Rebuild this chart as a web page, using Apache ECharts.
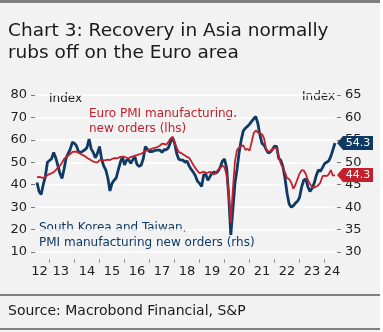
<!DOCTYPE html>
<html>
<head>
<meta charset="utf-8">
<script src="https://cdn.jsdelivr.net/npm/echarts@6/dist/echarts.min.js"></script>
<style>
html,body{margin:0;padding:0;background:#ffffff;}
#chart{width:383px;height:332px;}
</style>
</head>
<body>
<div id="chart"></div>
<script>
// Monthly data, July 2012 .. June 2024
const startYear = 2012, startMonth = 7;
// South Korea and Taiwan PMI manufacturing new orders (rhs)
const asiaNewOrders = [
 45.5,43.5,42.8,45.0,46.8,50.0,50.4,50.8,52.2,51.0,49.3,47.5,
 46.4,48.5,51.0,52.0,53.0,54.5,54.2,53.6,52.3,52.2,52.5,52.8,
 53.3,55.2,53.0,52.2,51.0,52.0,53.5,50.7,49.2,48.3,46.5,43.6,
 45.3,46.0,46.5,48.3,50.0,51.2,49.4,50.5,50.5,49.8,50.6,51.2,
 49.5,49.1,49.4,50.8,53.5,52.9,52.4,52.4,52.5,52.7,52.7,52.7,
 52.2,52.8,52.8,53.2,54.4,55.6,54.3,52.0,50.7,50.5,50.5,50.0,
 50.3,49.2,48.4,47.8,47.0,45.8,45.3,44.6,47.2,47.3,46.0,46.8,
 47.6,47.8,47.6,48.1,49.0,50.3,50.7,48.7,42.5,33.8,39.5,45.3,
 48.5,52.2,55.0,57.0,57.6,58.0,58.5,59.1,59.7,60.2,58.6,56.0,
 54.2,53.8,52.8,52.1,52.3,52.9,53.6,53.5,50.9,50.4,49.0,46.5,
 43.1,40.7,40.0,40.3,40.9,41.3,42.2,44.5,46.0,46.3,44.5,43.5,
 44.2,45.3,47.0,48.3,48.0,48.8,49.7,50.0,50.3,51.3,52.8,54.3
];
// Euro PMI manufacturing, new orders (lhs)
const euroNewOrders = [
 43.3,43.5,43.3,43.0,43.6,44.2,44.8,45.1,45.6,46.5,47.6,48.4,
 49.8,51.5,52.3,53.0,53.8,54.6,54.7,54.7,54.2,53.7,53.2,52.7,
 52.0,51.4,50.9,50.3,50.1,50.0,51.0,51.0,50.8,51.0,51.2,51.0,
 51.5,51.8,51.8,52.0,52.4,52.5,52.5,52.0,51.8,52.3,52.6,53.0,
 53.2,53.5,53.8,54.4,55.0,55.4,55.7,56.0,56.3,56.6,56.9,57.5,
 58.3,58.2,57.8,59.0,60.5,61.3,59.0,56.5,54.6,54.2,53.6,53.0,
 52.4,52.0,50.5,48.8,47.4,46.2,45.2,45.5,45.8,45.3,45.3,45.8,
 44.9,44.6,45.6,46.6,47.5,48.5,47.8,44.3,36.0,23.0,38.0,50.5,
 55.5,56.5,57.2,57.6,55.5,56.0,55.2,59.0,63.0,64.2,63.2,62.9,
 62.5,60.5,55.5,54.8,55.0,55.6,56.6,56.2,52.5,49.3,47.8,45.5,
 43.0,42.5,41.0,38.2,40.0,42.5,45.0,46.5,46.3,44.8,42.0,40.3,
 39.0,38.7,39.2,39.8,41.0,43.8,44.0,43.8,44.6,46.5,44.0,44.3
];
const yearTicks = [2013,2014,2015,2016,2017,2018,2019,2020,2021,2022,2023,2024];
const yearLabelPos = [2012.6,2013.45,2014.5,2015.5,2016.5,2017.5,2018.5,2019.5,2020.5,2021.5,2022.5,2023.5,2024.3];
const leftTicks = [10,20,30,40,50,60,70,80];
const rightTicks = [30,35,40,45,50,55,60,65];

const BLUE = '#0e3a63', RED = '#c4202c';
const FONT = 'DejaVu Sans';

const t0 = startYear + (startMonth - 1) / 12;
const xOf = i => t0 + i / 12;
const asiaData = asiaNewOrders.map((v, i) => [xOf(i), v]);
const euroData = euroNewOrders.map((v, i) => [xOf(i), v]);
const lastI = asiaNewOrders.length - 1;

const arrowPath = 'path://M0,7 L6,0 L36,0 L36,14 L6,14 Z';

const chart = echarts.init(document.getElementById('chart'), null, {renderer: 'canvas'});
chart.setOption({
  animation: false,
  backgroundColor: '#ffffff',
  textStyle: {fontFamily: FONT},
  grid: {left: 37, right: 48, top: 95, bottom: 80},
  xAxis: {
    type: 'value', min: t0, max: xOf(lastI), offset: 7,
    axisLine: {show: false},
    splitLine: {show: false},
    axisTick: {show: true, customValues: yearTicks, length: 4, lineStyle: {color: '#9a9a9a', width: 1}},
    axisLabel: {customValues: yearLabelPos, margin: 6, fontSize: 13, color: '#222', fontFamily: FONT,
      formatter: v => String(Math.floor(v)).slice(2)}
  },
  yAxis: [
    {type: 'value', min: leftTicks[0], max: leftTicks[leftTicks.length-1], interval: 10, position: 'left', offset: 2,
     axisLine: {show: false},
     axisTick: {show: true, length: 4, lineStyle: {color: '#7a7a7a'}},
     axisLabel: {margin: 8, fontSize: 13, color: '#222', fontFamily: FONT},
     splitLine: {show: true, lineStyle: {color: '#ffffff', width: 1.5}}},
    {type: 'value', min: rightTicks[0], max: rightTicks[rightTicks.length-1], interval: 5, position: 'right', offset: 2,
     axisLine: {show: false},
     axisTick: {show: true, length: 4, lineStyle: {color: '#7a7a7a'}},
     axisLabel: {margin: 8, fontSize: 13, color: '#222', fontFamily: FONT},
     splitLine: {show: false}}
  ],
  series: [
    {name: 'South Korea and Taiwan', type: 'line', yAxisIndex: 1, data: asiaData, showSymbol: false, symbol: 'none',
     lineStyle: {color: BLUE, width: 2.8}, z: 2,
     markPoint: {symbol: arrowPath, symbolSize: [36, 14], symbolOffset: [20, 0], symbolKeepAspect: false,
       itemStyle: {color: BLUE},
       label: {show: true, position: 'inside', color: '#fff', fontSize: 11, fontFamily: FONT, offset: [3, 0],
         formatter: p => p.value.toFixed(1)},
       data: [{coord: asiaData[lastI], value: asiaNewOrders[lastI]}]}},
    {name: 'Euro PMI', type: 'line', yAxisIndex: 0, data: euroData, showSymbol: false, symbol: 'none',
     lineStyle: {color: RED, width: 1.8}, z: 3,
     markPoint: {symbol: arrowPath, symbolSize: [36, 14], symbolOffset: [20, 0], symbolKeepAspect: false,
       itemStyle: {color: RED},
       label: {show: true, position: 'inside', color: '#fff', fontSize: 11, fontFamily: FONT, offset: [3, 0],
         formatter: p => p.value.toFixed(1)},
       data: [{coord: euroData[lastI], value: euroNewOrders[lastI]}]}}
  ],
  graphic: [
    {type: 'rect', z: -10, silent: true, shape: {x: 0, y: 0, width: 380, height: 332}, style: {fill: '#f2f2f2'}},
    {type: 'rect', z: -5, shape: {x: 0, y: 0, width: 380, height: 3}, style: {fill: '#808080'}},
    {type: 'text', left: 8, top: 22, style: {text: 'Chart 3: Recovery in Asia normally', fontSize: 18.5, fontFamily: FONT, fill: '#1a1a1a'}},
    {type: 'text', left: 8, top: 43.5, style: {text: 'rubs off on the Euro area', fontSize: 18.5, fontFamily: FONT, fill: '#1a1a1a'}},
    {type: 'text', left: 49, top: 93, style: {text: 'Index', fontSize: 12, fontFamily: FONT, fill: '#1a1a1a'}},
    {type: 'text', left: 302, top: 91, style: {text: 'Index', fontSize: 12, fontFamily: FONT, fill: '#1a1a1a'}},
    {type: 'text', left: 89, top: 106, style: {text: 'Euro PMI manufacturing,\nnew orders (lhs)', fontSize: 12, lineHeight: 15, fontFamily: FONT, fill: RED}},
    {type: 'text', left: 39, top: 220, style: {text: 'South Korea and Taiwan,\nPMI manufacturing new orders (rhs)', fontSize: 12, lineHeight: 15, fontFamily: FONT, fill: BLUE}},
    {type: 'rect', z: -5, shape: {x: 0, y: 294, width: 380, height: 2}, style: {fill: '#808080'}},
    {type: 'text', left: 8, top: 304, style: {text: 'Source: Macrobond Financial, S&P', fontSize: 14, fontFamily: FONT, fill: '#1a1a1a'}},
    {type: 'rect', z: -5, shape: {x: 0, y: 328, width: 380, height: 2}, style: {fill: '#808080'}}
  ]
});
</script>
</body>
</html>
